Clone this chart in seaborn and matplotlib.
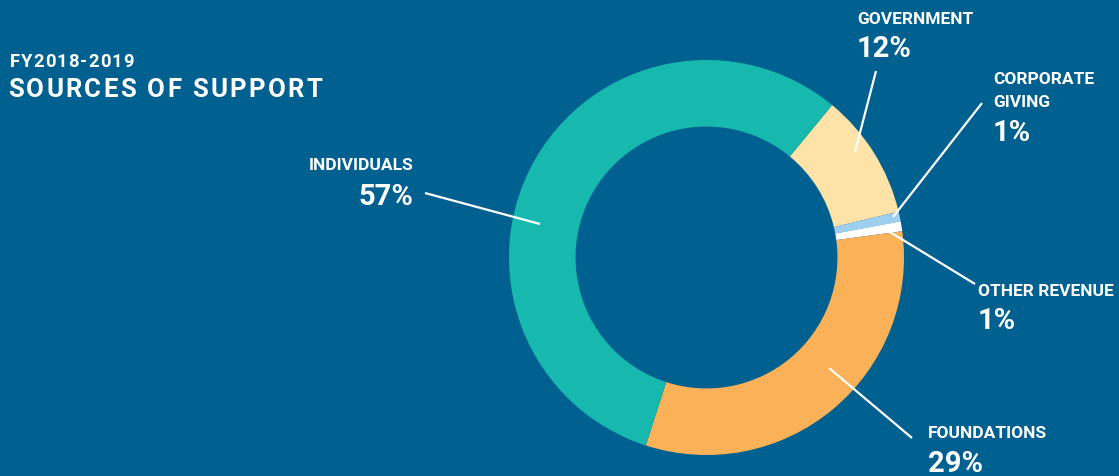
import matplotlib
matplotlib.use("Agg")
import matplotlib.pyplot as plt
import seaborn as sns

sns.set_style("white")
plt.rcParams["font.family"] = ["Roboto", "DejaVu Sans"]

# data
sources = ["GOVERNMENT", "CORPORATE\nGIVING", "OTHER REVENUE", "FOUNDATIONS", "INDIVIDUALS"]
shares = [10.3, 0.8, 0.8, 32.1, 56.0]          # wedge sizes as drawn
pct_labels = ["12%", "1%", "1%", "29%", "57%"]  # printed labels
colors = ["#fde3a7", "#9dd0ee", "#ffffff", "#fbb157", "#17b8ae"]
bg = "#00608f"

W, H = 1119, 476
fig = plt.figure(figsize=(W / 100, H / 100), dpi=100, facecolor=bg)

# donut: centre (706, 257), outer radius 197 px
cx, cy, r = 706.5, 257.5, 197.5
ax = fig.add_axes([(cx - r) / W, (H - cy - r) / H, 2 * r / W, 2 * r / H])
ax.pie(shares, colors=colors, startangle=50.5, counterclock=False,
       radius=1, wedgeprops=dict(width=0.337, linewidth=0))
ax.set_xlim(-1, 1)
ax.set_ylim(-1, 1)
ax.set_aspect("equal")
ax.axis("off")

# overlay in pixel coords for text and leader lines
ov = fig.add_axes([0, 0, 1, 1])
ov.set_xlim(0, W)
ov.set_ylim(H, 0)
ov.axis("off")
ov.patch.set_alpha(0)

renderer = fig.canvas.get_renderer()


def spaced_text(x, y, s, spacing, **kw):
    # draw one char at a time so the letters can be spread out
    for ch in s:
        t = ov.text(x, y, ch, **kw)
        w = t.get_window_extent(renderer).width
        x += w + spacing


spaced_text(10, 67, "FY2018-2019", 1.0, color="white", fontsize=13.2,
            fontweight="bold", va="baseline")
spaced_text(8, 97, "SOURCES OF SUPPORT", 2.3, color="white", fontsize=18.5,
            fontweight="bold", va="baseline")

# layout: (line start, line end, text x, last name baseline, pct baseline, ha)
layout = {
    "GOVERNMENT": ((855, 152), (876, 71), 857, 24, 57, "left"),
    "CORPORATE\nGIVING": ((893, 217), (982, 103), 993, 107, 141, "left"),
    "OTHER REVENUE": ((890, 232), (975, 284), 978, 296, 329, "left"),
    "FOUNDATIONS": ((829, 368), (912, 438), 928, 438, 472, "left"),
    "INDIVIDUALS": ((540, 224), (425, 193), 413, 170, 205, "right"),
}
label_font = ["Liberation Sans Narrow", "Roboto", "DejaVu Sans"]

for name, pct in zip(sources, pct_labels):
    p0, p1, tx, ny, py, ha = layout[name]
    ov.plot([p0[0], p1[0]], [p0[1], p1[1]], color="white", lw=1.6,
            solid_capstyle="butt")
    lines = name.split("\n")
    for i, ln in enumerate(lines[::-1]):
        ov.text(tx, ny - i * 23, ln, color="white", fontsize=12.5,
                fontweight="bold", ha=ha, va="baseline", family=label_font)
    ov.text(tx, py, pct, color="white", fontsize=21, fontweight="bold",
            ha=ha, va="baseline")

fig.savefig("out.png", dpi=100, facecolor=bg)
